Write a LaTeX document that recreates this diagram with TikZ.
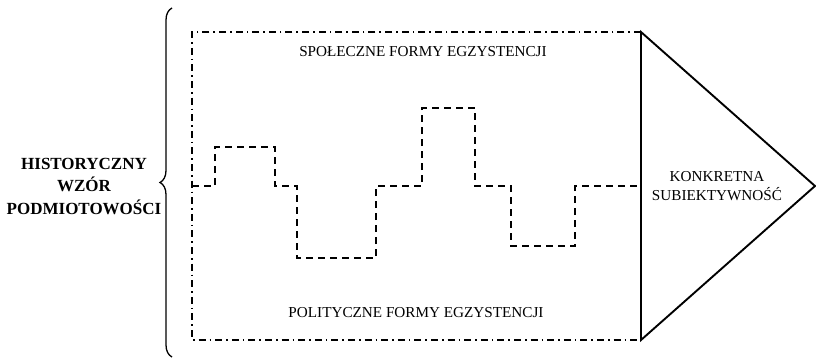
\documentclass[tikz,border=0pt]{standalone}
\usepackage{fontspec}
\setmainfont{Liberation Serif}
\usetikzlibrary{decorations.pathreplacing}
\begin{document}
\begin{tikzpicture}[x=1pt,y=-1pt,
    frame/.style={line width=1.9pt,dash pattern=on 7pt off 4pt on 1.6pt off 4pt},
    wave/.style={line width=1.9pt,dash pattern=on 7pt off 5pt},
    txt/.style={font=\fontsize{15.2}{18.5}\selectfont,inner sep=0pt,align=center}]
        \useasboundingbox (0,0) rectangle (816,359);
        %% Frame
        \coordinate (tl) at (192,32);
        \coordinate (bl) at (192,340);
        \coordinate (tr) at (641,32);
        \coordinate (br) at (641,340);
        \coordinate (tip) at (815,186);
        \draw[frame] (tr) -- (tl) -- (bl) -- (br);
        \draw[line width=1.9pt,line join=miter] (tr) -- (tip) -- (br) -- cycle;
        %% Wave
        \draw[wave] (192,186) -- (215,186) -- (215,147) -- (275,147) -- (275,186)
            -- (297,186) -- (297,258) -- (376,258) -- (376,186) -- (422,186)
            -- (422,108) -- (475,108) -- (475,186) -- (511,186) -- (511,246)
            -- (575,246) -- (575,186) -- (641,186);
        %% Brace
        \coordinate (bb) at (172,357);
        \coordinate (bt) at (172,8);
        \draw[line width=1.3pt,decorate,decoration={brace,amplitude=12pt}] (bb) -- (bt);
        %% Labels
        \node[txt] (social) at (423,52) {SPOŁECZNE FORMY EGZYSTENCJI};
        \node[txt] (political) at (416,313) {POLITYCZNE FORMY EGZYSTENCJI};
        \node[txt] (concrete) at (717,186) {KONKRETNA\\SUBIEKTYWNOŚĆ};
        \node[txt,font=\fontsize{17}{22.5}\selectfont\bfseries] (pattern) at (84,186) {HISTORYCZNY\\WZÓR\\PODMIOTOWOŚCI};
\end{tikzpicture}
\end{document}
